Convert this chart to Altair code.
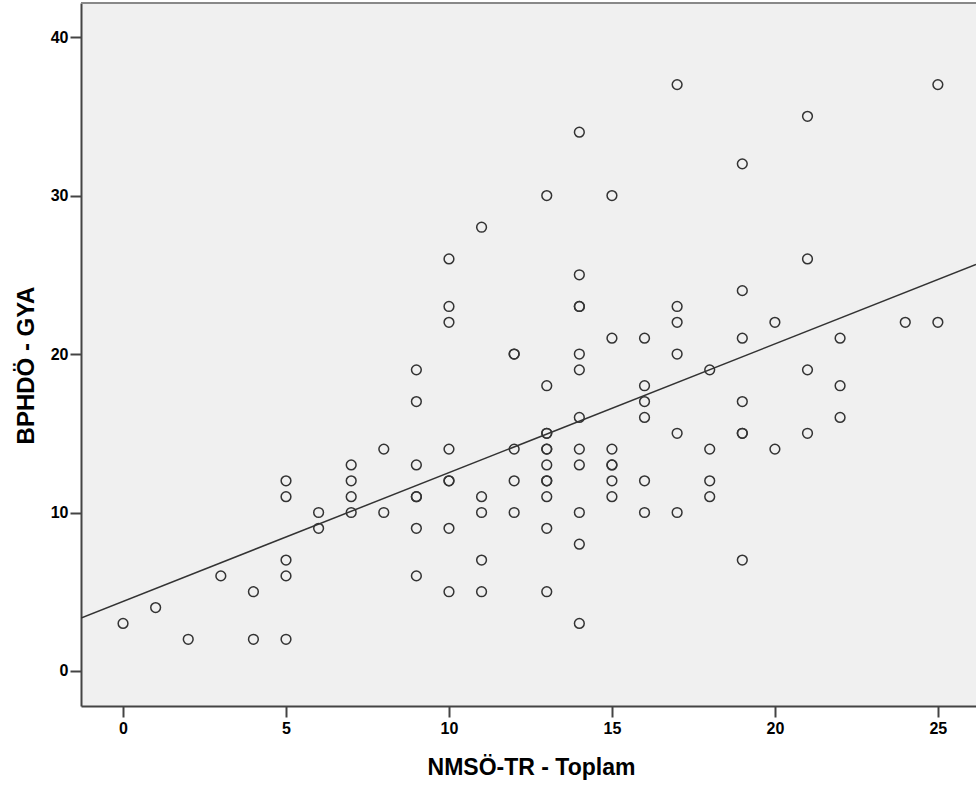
import altair as alt
import pandas as pd

# NMSÖ-TR - Toplam (x) and BPHDÖ - GYA (y), read per x column
x_values = (
    [0] * 1 + [1] * 1 + [2] * 1 + [3] * 1 + [4] * 2 + [5] * 5 + [6] * 2 + [7] * 4 + [8] * 2
    + [9] * 7 + [10] * 8 + [11] * 5 + [12] * 5 + [13] * 12 + [14] * 12 + [15] * 7
    + [16] * 6 + [17] * 6 + [18] * 4 + [19] * 7 + [20] * 2 + [21] * 4 + [22] * 3
    + [24] * 1 + [25] * 2
)
y_values = (
    [3]
    + [4]
    + [2]
    + [6]
    + [5, 2]
    + [12, 11, 7, 6, 2]
    + [10, 9]
    + [13, 12, 11, 10]
    + [14, 10]
    + [19, 17, 13, 11, 11, 9, 6]
    + [26, 23, 22, 14, 12, 12, 9, 5]
    + [28, 11, 10, 7, 5]
    + [20, 20, 14, 12, 10]
    + [30, 18, 15, 15, 14, 14, 13, 12, 12, 11, 9, 5]
    + [34, 25, 23, 23, 20, 19, 16, 14, 13, 10, 8, 3]
    + [30, 21, 14, 13, 13, 12, 11]
    + [21, 18, 17, 16, 12, 10]
    + [37, 23, 22, 20, 15, 10]
    + [19, 14, 12, 11]
    + [32, 24, 21, 17, 15, 15, 7]
    + [22, 14]
    + [35, 26, 19, 15]
    + [21, 18, 16]
    + [22]
    + [37, 22]
)
x_ticks = [0, 5, 10, 15, 20, 25]
y_ticks = [0, 10, 20, 30, 40]
x_domain = [-1.29, 26.17]
y_domain = [-2.21, 42.15]

df = pd.DataFrame({"x": x_values, "y": y_values})

W, H = 895, 703
TICK_FONT = "Liberation Sans"
TITLE_FONT = "Liberation Sans"

xscale = alt.Scale(domain=x_domain, nice=False, zero=False)
yscale = alt.Scale(domain=y_domain, nice=False, zero=False)

xaxis = alt.Axis(
    values=x_ticks, title="NMSÖ-TR - Toplam", grid=False,
    domainColor="#444444", domainWidth=2, tickColor="#444444", tickWidth=2, tickSize=11,
    labelFont=TICK_FONT, labelFontWeight="bold", labelFontSize=16, labelColor="#000000",
    labelPadding=3, labelFlush=False,
    titleFont=TITLE_FONT, titleFontWeight="bold", titleFontSize=23, titleColor="#000000",
    titleBaseline="alphabetic", titleX=450, titleY=68, titleAlign="center",
)
yaxis = alt.Axis(
    values=y_ticks, title="BPHDÖ - GYA", grid=False,
    domainColor="#444444", domainWidth=2, tickColor="#444444", tickWidth=2, tickSize=11,
    labelFont=TICK_FONT, labelFontWeight="bold", labelFontSize=16, labelColor="#000000",
    labelPadding=2, labelFlush=False,
    titleFont=TITLE_FONT, titleFontWeight="bold", titleFontSize=24, titleColor="#000000",
    titleAngle=270, titleBaseline="alphabetic", titleAlign="center", titleX=-48, titleY=362,
)

base = alt.Chart(df)

points = base.mark_point(
    shape="circle", filled=False, size=95, stroke="#333333", strokeWidth=1.5, opacity=1
).encode(
    x=alt.X("x:Q", scale=xscale, axis=xaxis),
    y=alt.Y("y:Q", scale=yscale, axis=yaxis),
)

fit = base.transform_regression(
    "x", "y", method="linear", extent=x_domain
).mark_line(color="#333333", strokeWidth=1.5, clip=True).encode(
    x=alt.X("x:Q", scale=xscale),
    y=alt.Y("y:Q", scale=yscale),
)

top_border = alt.Chart(pd.DataFrame({"k": [0]})).mark_rule(
    color="#888888", strokeWidth=2
).encode(x=alt.value(0), x2=alt.value(W), y=alt.value(0))

chart = alt.layer(points, fit, top_border).properties(
    width=W, height=H,
    autosize=alt.AutoSizeParams(type="none"),
    padding={"left": 81, "top": 3, "right": 0, "bottom": 81},
    background="#ffffff",
).configure_view(fill="#F0F0F0", strokeOpacity=0)

chart.save("out.html", embed_options={"renderer": "svg", "actions": False})
